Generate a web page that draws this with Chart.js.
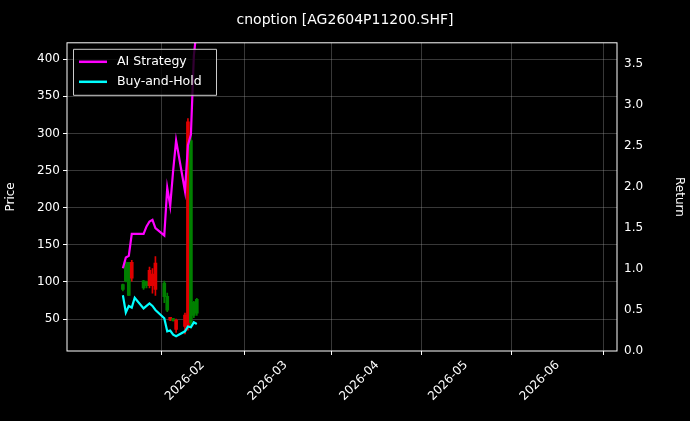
<!DOCTYPE html><html><head><meta charset="utf-8">
<script src="https://cdn.jsdelivr.net/npm/chart.js@4/dist/chart.umd.min.js"></script>
<style>html,body{margin:0;background:#000;}#w{width:690px;height:421px;}</style></head><body>
<div id="w"><canvas id="c"></canvas></div>
<script>
// day numbers counted from 2026-01-01 (day 0)
const dates = [4,5,6,7,8,11,12,13,14,15,18,19,20,21,22,25,26,27,28,29];
const open  = [90,101,82,126,null,92,95,115,110,125,80,62,52,48,48,55,315,45,55,58];
const high  = [97,127,126,129,null,102,101,120,118,134,101,85,52,51,50,58,320,300,74,78];
const low   = [88,100,82,101,null,90,92,92,85,82,72,60,48,47,32,30,35,38,52,55];
const close = [96,126,126,105,null,101,100,95,95,90,98,80,49,50,36,40,40,290,72,76];
const aiReturn = [1.01,1.14,1.16,1.43,1.43,1.43,1.52,1.58,1.6,1.5,1.41,1.99,1.77,2.2,2.57,1.95,2.51,2.64,3.6,3.95];
const bhReturn = [0.68,0.47,0.55,0.53,0.65,0.52,0.55,0.58,0.55,0.5,0.4,0.24,0.25,0.2,0.18,0.24,0.3,0.29,0.35,0.33];
const tickDays = [31,59,90,120,151];
const tickLabels = ['2026-02','2026-03','2026-04','2026-05','2026-06'];

const idx = dates.map((d,i)=>i).filter(i=>open[i]!=null);
const candleColor = idx.map(i=> close[i] >= open[i] ? '#008000' : '#e00000');
const wick = idx.map(i=>({x:dates[i],y:[low[i],high[i]]}));
const body = idx.map(i=>({x:dates[i],y:[Math.min(open[i],close[i]),Math.max(open[i],close[i])+0.5]}));
const grid = {color:'rgba(160,160,160,0.35)', borderDash:[3,3], drawTicks:true, tickColor:'#fff', tickLength:4};

const legendPlugin = {id:'lg', afterDraw(ch){
  const c=ch.ctx, a=ch.chartArea; const x=a.left+6, y=a.top+6;
  c.save(); c.fillStyle='rgba(0,0,0,0.8)'; c.strokeStyle='#ccc'; c.lineWidth=1;
  c.beginPath(); c.rect(x+0.5,y+0.5,143,46); c.fill(); c.stroke();
  c.font='12.5px "DejaVu Sans"'; c.textBaseline='middle'; c.fillStyle='#fff';
  [['AI Strategy','#ff00ff'],['Buy-and-Hold','#00ffff']].forEach((e,k)=>{
    const yy=y+13+k*20; c.strokeStyle=e[1]; c.lineWidth=2.5;
    c.beginPath(); c.moveTo(x+6,yy); c.lineTo(x+34,yy); c.stroke();
    c.fillText(e[0], x+44, yy);
  });
  c.restore();
}};
const bgPlugin={id:'bg',beforeDraw(ch){const c=ch.ctx;c.save();c.fillStyle='#000';c.fillRect(0,0,ch.width,ch.height);c.restore();},
 afterDraw(ch){const c=ch.ctx,a=ch.chartArea;c.save();c.strokeStyle='#fff';c.lineWidth=1;c.strokeRect(a.left,a.top,a.right-a.left,a.bottom-a.top);c.restore();}};

new Chart(document.getElementById('c'),{
  data:{datasets:[
    {type:'line',label:'AI Strategy',yAxisID:'y2',data:dates.map((d,i)=>({x:d,y:aiReturn[i]})),borderColor:'#ff00ff',borderWidth:2.2,pointRadius:0,order:0},
    {type:'line',label:'Buy-and-Hold',yAxisID:'y2',data:dates.map((d,i)=>({x:d,y:bhReturn[i]})),borderColor:'#00ffff',borderWidth:2.2,pointRadius:0,order:0},
    {type:'bar',yAxisID:'y',data:wick,backgroundColor:candleColor,barThickness:1,grouped:false,order:2},
    {type:'bar',yAxisID:'y',data:body,backgroundColor:candleColor,barThickness:3,grouped:false,order:1}
  ]},
  options:{responsive:true,maintainAspectRatio:false,animation:false,
    plugins:{legend:{display:false},tooltip:{enabled:false},
      title:{display:true,text:'cnoption [AG2604P11200.SHF]',color:'#fff',font:{family:'DejaVu Sans',size:14,weight:'normal'},padding:{top:12,bottom:14}}},
    scales:{
      x:{type:'linear',min:3.7,max:152.5,grid:grid,border:{display:false},
        afterBuildTicks(s){s.ticks=tickDays.map(v=>({value:v}));},
        ticks:{color:'#fff',font:{family:'DejaVu Sans',size:12},maxRotation:45,minRotation:45,
          callback:(v)=>tickLabels[tickDays.indexOf(v)]},
        afterFit(s){s.height=70;}},
      y:{position:'left',min:7,max:422,grid:grid,border:{display:false},
        afterBuildTicks(s){s.ticks=[50,100,150,200,250,300,350,400].map(v=>({value:v}));},
        ticks:{color:'#fff',font:{family:'DejaVu Sans',size:12}},
        title:{display:true,text:'Price',color:'#fff',font:{family:'DejaVu Sans',size:12}},
        afterFit(s){s.width=67;}},
      y2:{position:'right',min:0,max:3.76,grid:{display:false,tickColor:'#fff',tickLength:4},border:{display:false},
        afterBuildTicks(s){s.ticks=[0,0.5,1,1.5,2,2.5,3,3.5].map(v=>({value:v}));},
        ticks:{color:'#fff',font:{family:'DejaVu Sans',size:12},callback:v=>v.toFixed(1)},
        title:{display:true,text:'Return',color:'#fff',font:{family:'DejaVu Sans',size:12}},
        afterFit(s){s.width=73;}}
    }},
  plugins:[bgPlugin,legendPlugin]
});
</script></body></html>
